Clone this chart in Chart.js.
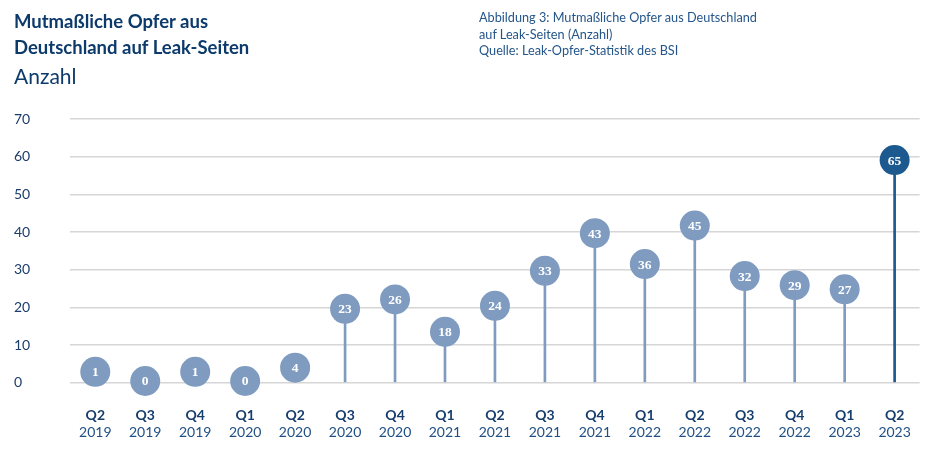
<!DOCTYPE html>
<html><head><meta charset="utf-8">
<script src="https://cdn.jsdelivr.net/npm/chart.js@4/dist/chart.umd.min.js"></script>
<style>
html,body{margin:0;padding:0;background:#fff;width:945px;height:470px;overflow:hidden;font-family:Lato,sans-serif}
#wrap{position:relative;width:945px;height:470px}
#c{position:absolute;left:0;top:0}
.title{position:absolute;left:14px;top:7.9px;color:#0c3a6b;font-weight:700;font-size:18.5px;line-height:26.5px;white-space:nowrap}
.sub{position:absolute;left:14px;top:62.7px;color:#0c3a6b;font-weight:400;font-size:21px;line-height:25px}
.cap{position:absolute;left:479px;top:9.1px;color:#24568a;font-size:12.7px;line-height:16.5px;white-space:nowrap}
</style></head>
<body><div id="wrap">
<canvas id="c" width="945" height="470"></canvas>
<div class="title">Mutmaßliche Opfer aus<br>Deutschland auf Leak-Seiten</div>
<div class="sub">Anzahl</div>
<div class="cap">Abbildung 3: Mutmaßliche Opfer aus Deutschland<br>auf Leak-Seiten (Anzahl)<br>Quelle: Leak-Opfer-Statistik des BSI</div>
</div>
<script>
const quarters = ['Q2','Q3','Q4','Q1','Q2','Q3','Q4','Q1','Q2','Q3','Q4','Q1','Q2','Q3','Q4','Q1','Q2'];
const years = ['2019','2019','2019','2020','2020','2020','2020','2021','2021','2021','2021','2022','2022','2022','2022','2023','2023'];
const victimCounts = [1,0,1,0,4,23,26,18,24,33,43,36,45,32,29,27,65];
// heights at which the markers sit in the reference picture (axis units)
const markerLevels = [2.9,0.45,2.9,0.45,4.0,19.6,22.1,13.5,20.4,29.7,39.7,31.5,41.7,28.3,25.9,24.8,59.1];
const yTickValues = [0,10,20,30,40,50,60,70];

const LIGHT = '#7f9bc0', DARK = '#1b598e';
const colorFor = ctx => ctx.dataIndex === victimCounts.length - 1 ? DARK : LIGHT;

const valueLabels = {
  id: 'valueLabels',
  afterDatasetsDraw(chart) {
    const meta = chart.getDatasetMeta(1);
    const ctx = chart.ctx;
    ctx.save();
    ctx.font = 'bold 13.5px "Liberation Serif", serif';
    ctx.fillStyle = '#ffffff';
    ctx.textAlign = 'center';
    ctx.textBaseline = 'middle';
    meta.data.forEach((pt, i) => ctx.fillText(String(victimCounts[i]), pt.x, pt.y + 1));
    ctx.restore();
  }
};

const tickFont = {family: 'Lato', size: 14};
new Chart(document.getElementById('c'), {
  type: 'bar',
  data: {
    labels: quarters.map((q, i) => q + ' ' + years[i]),
    datasets: [
      {type: 'bar', data: markerLevels, backgroundColor: colorFor, borderWidth: 0, barThickness: 2, order: 2, xAxisID: 'x'},
      {type: 'line', data: markerLevels, showLine: false, pointRadius: 15, pointHoverRadius: 15, pointBorderWidth: 0,
       pointBackgroundColor: colorFor, clip: false, order: 1, xAxisID: 'x'}
    ]
  },
  options: {
    responsive: false, animation: false,
    layout: {padding: {left: 14, top: 119, right: 25.4, bottom: 27.3}},
    plugins: {legend: {display: false}, tooltip: {enabled: false}},
    scales: {
      y: {
        min: 0, max: 70,
        afterBuildTicks: s => { s.ticks = yTickValues.map(v => ({value: v})); },
        afterFit: s => { s.width = 56.3; },
        ticks: {color: '#1b3d6b', font: tickFont, crossAlign: 'far', padding: 0},
        grid: {color: '#d6d6d6', lineWidth: 1.5, drawTicks: false},
        border: {display: false}
      },
      x: {
        type: 'category', labels: quarters, offset: true, weight: 0,
        afterFit: s => { s.height = 40; },
        ticks: {color: '#163d6d', font: {family: 'Lato', size: 14, weight: '700'}, padding: 24, maxRotation: 0, autoSkip: false},
        grid: {display: false, drawTicks: false},
        border: {display: false}
      },
      x2: {
        type: 'category', labels: years, offset: true, position: 'bottom', weight: 1,
        afterFit: s => { s.height = 20; },
        ticks: {color: '#1f4f84', font: tickFont, padding: 1.6, maxRotation: 0, autoSkip: false},
        grid: {display: false, drawTicks: false},
        border: {display: false}
      }
    }
  },
  plugins: [valueLabels]
});
</script>
</body></html>
